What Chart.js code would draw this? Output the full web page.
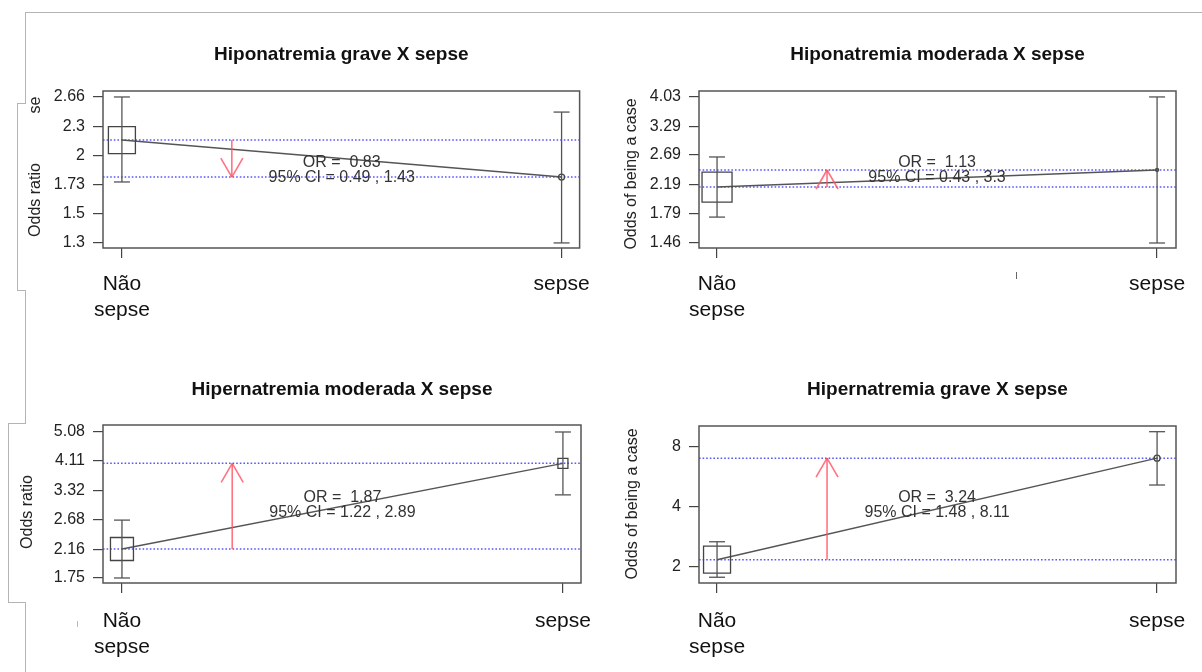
<!DOCTYPE html>
<html>
<head>
<meta charset="utf-8">
<script src="https://cdn.jsdelivr.net/npm/chart.js@4.4.0/dist/chart.umd.min.js"></script>
<style>
  html, body { margin: 0; padding: 0; background: #fff; }
  #page { position: relative; width: 1202px; height: 672px; overflow: hidden; }
  canvas { position: absolute; }
  .edge { position: absolute; background: #b4b4b4; }
</style>
</head>
<body>
<div id="page">
  <canvas id="c0" width="600" height="330" style="left:0;top:0"></canvas>
  <canvas id="c1" width="602" height="330" style="left:600px;top:0"></canvas>
  <canvas id="c2" width="600" height="342" style="left:0;top:330px"></canvas>
  <canvas id="c3" width="602" height="342" style="left:600px;top:330px"></canvas>

  <!-- frame left over from the pasted screenshots -->
  <div class="edge" style="left:25px;top:12px;width:1177px;height:1px"></div>
  <div class="edge" style="left:25px;top:12px;width:1px;height:91px"></div>
  <div class="edge" style="left:17px;top:103px;width:9px;height:1px"></div>
  <div class="edge" style="left:17px;top:103px;width:1px;height:187px"></div>
  <div class="edge" style="left:17px;top:290px;width:9px;height:1px"></div>
  <div class="edge" style="left:25px;top:290px;width:1px;height:133px"></div>
  <div class="edge" style="left:8px;top:423px;width:18px;height:1px"></div>
  <div class="edge" style="left:8px;top:423px;width:1px;height:179px"></div>
  <div class="edge" style="left:8px;top:602px;width:18px;height:1px"></div>
  <div class="edge" style="left:25px;top:602px;width:1px;height:70px"></div>
  <div class="edge" style="left:1016px;top:272px;width:1px;height:7px;background:#666"></div>
  <div class="edge" style="left:77px;top:621px;width:1px;height:6px;background:#bbb"></div>
</div>

<script>
// data
const titles = ['Hiponatremia grave X sepse', 'Hiponatremia moderada X sepse',
                'Hipernatremia moderada X sepse', 'Hipernatremia grave X sepse'];
const categories = [['Não', 'sepse'], 'sepse'];
const yTitles = ['Odds ratio', 'Odds of being a case', 'Odds ratio', 'Odds of being a case'];

const odds  = [[2.153, 1.796], [2.154, 2.425], [2.162, 4.04], [2.17, 7.03]];
const lower = [[1.753, 1.30],  [1.748, 1.46],  [1.75, 3.21],  [1.77, 5.15]];
const upper = [[2.66, 2.47],   [2.655, 4.03],  [2.67, 5.08],  [2.67, 9.55]];

const orValues = ['0.83', '1.13', '1.87', '3.24'];
const ciValues = [['0.49', '1.43'], ['0.43', '3.3'], ['1.22', '2.89'], ['1.48', '8.11']];

const yTicks = [[1.3, 1.5, 1.73, 2, 2.3, 2.66],
                [1.46, 1.79, 2.19, 2.69, 3.29, 4.03],
                [1.75, 2.16, 2.68, 3.32, 4.11, 5.08],
                [2, 4, 8]];
const yRange = [[1.268, 2.739], [1.41, 4.20], [1.687, 5.346], [1.656, 10.2]];

// styles / placement
const markerShape = [['rect', 'circle'], ['rect', 'circle'], ['rect', 'rect'], ['rect', 'circle']];
const markerSide  = [[27, 6], [30, 3], [23, 10], [27, 6]];

const layoutCfg = [
  { yWidth: 103, padRight: 19, titleTop: 43.6, titleBottom: 24.6, xHeight: 82, xPad: 13, xMin: -0.043, xMax: 1.041, yTitle: [36, 200], extra: ['se', 36, 105] },
  { yWidth: 99,  padRight: 26, titleTop: 43.6, titleBottom: 24.6, xHeight: 82, xPad: 13, xMin: -0.041, xMax: 1.043, yTitle: [32, 174] },
  { yWidth: 103, padRight: 19, titleTop: 48.4, titleBottom: 23.8, xHeight: 89, xPad: 15, xMin: -0.043, xMax: 1.041, yTitle: [28, 182] },
  { yWidth: 99,  padRight: 26, titleTop: 48.4, titleBottom: 24.8, xHeight: 89, xPad: 15, xMin: -0.041, xMax: 1.043, yTitle: [33, 174] }
];

const FONT = "'Liberation Sans', Arial, Helvetica, sans-serif";
Chart.defaults.font.family = FONT;

function seg(ctx, x1, y1, x2, y2) {
  ctx.beginPath();
  ctx.moveTo(x1, y1);
  ctx.lineTo(x2, y2);
  ctx.stroke();
}

const decor = {
  id: 'decor',
  beforeDatasetsDraw(chart, args, opts) {
    const { ctx, chartArea: a, scales: { y } } = chart;
    const i = opts.panel;
    ctx.save();
    // dotted reference lines at both odds
    ctx.strokeStyle = 'rgba(70,70,255,0.9)';
    ctx.lineWidth = 1.5;
    ctx.setLineDash([1.6, 2]);
    odds[i].forEach(v => {
      const py = y.getPixelForValue(v);
      seg(ctx, a.left, py, a.right, py);
    });
    ctx.setLineDash([]);
    // plot box
    ctx.strokeStyle = '#555';
    ctx.lineWidth = 1.5;
    ctx.strokeRect(a.left, a.top, a.right - a.left, a.bottom - a.top);
    ctx.restore();
  },
  afterDatasetsDraw(chart, args, opts) {
    const { ctx, chartArea: a, scales: { x, y } } = chart;
    const i = opts.panel;
    const L = layoutCfg[i];
    ctx.save();

    // confidence intervals
    ctx.strokeStyle = '#555';
    ctx.lineWidth = 1.3;
    odds[i].forEach((v, k) => {
      const px = x.getPixelForValue(k);
      const lo = y.getPixelForValue(lower[i][k]);
      const hi = y.getPixelForValue(upper[i][k]);
      seg(ctx, px, lo, px, hi);
      seg(ctx, px - 8, lo, px + 8, lo);
      seg(ctx, px - 8, hi, px + 8, hi);
    });

    // red arrow from first odds to second
    const ax = x.getPixelForValue(0.25);
    const y0 = y.getPixelForValue(odds[i][0]);
    const y1 = y.getPixelForValue(odds[i][1]);
    const dir = y1 < y0 ? 1 : -1;
    ctx.strokeStyle = 'rgba(255,80,100,0.8)';
    ctx.lineWidth = 1.6;
    seg(ctx, ax, y0, ax, y1);
    seg(ctx, ax - 11, y1 + dir * 19, ax, y1);
    seg(ctx, ax + 11, y1 + dir * 19, ax, y1);

    // OR text
    const cx = x.getPixelForValue(0.5);
    const cy = (a.top + a.bottom) / 2;
    ctx.fillStyle = '#333';
    ctx.font = '16px ' + FONT;
    ctx.textAlign = 'center';
    ctx.textBaseline = 'middle';
    ctx.fillText('OR =  ' + orValues[i], cx, cy - 6.5);
    ctx.fillText('95% CI = ' + ciValues[i][0] + ' , ' + ciValues[i][1], cx, cy + 8.5);

    // y axis title
    const drawRot = (txt, tx, ty) => {
      ctx.save();
      ctx.translate(tx, ty);
      ctx.rotate(-Math.PI / 2);
      ctx.fillText(txt, 0, 0);
      ctx.restore();
    };
    ctx.fillStyle = '#222';
    drawRot(yTitles[i], L.yTitle[0], L.yTitle[1]);
    if (L.extra) drawRot(L.extra[0], L.extra[1], L.extra[2]);
    ctx.restore();
  }
};

function makeChart(i) {
  const L = layoutCfg[i];
  return new Chart(document.getElementById('c' + i), {
    type: 'line',
    data: {
      datasets: [{
        data: odds[i].map((v, k) => ({ x: k, y: v })),
        borderColor: '#555',
        borderWidth: 1.5,
        tension: 0,
        pointStyle: markerShape[i],
        pointRadius: markerSide[i].map((s, k) => markerShape[i][k] === 'rect' ? s / Math.SQRT2 : s / 2),
        pointBackgroundColor: 'rgba(0,0,0,0)',
        pointBorderColor: '#444',
        pointBorderWidth: 1.3,
        clip: false
      }]
    },
    options: {
      responsive: false,
      animation: false,
      devicePixelRatio: 1,
      events: [],
      layout: { padding: { left: 0, right: L.padRight, top: 0, bottom: 0 } },
      plugins: {
        legend: { display: false },
        tooltip: { enabled: false },
        title: {
          display: true,
          text: titles[i],
          fullSize: false,
          color: '#111',
          font: { size: 19, weight: 'bold' },
          padding: { top: L.titleTop, bottom: L.titleBottom }
        },
        decor: { panel: i }
      },
      scales: {
        x: {
          type: 'linear',
          min: L.xMin,
          max: L.xMax,
          bounds: 'data',
          afterBuildTicks: s => { s.ticks = categories.map((c, k) => ({ value: k })); },
          afterFit: s => { s.height = L.xHeight; s.paddingLeft = 0; s.paddingRight = 0; },
          grid: { drawOnChartArea: false, drawTicks: true, tickLength: 10, color: '#444', lineWidth: 1.2 },
          border: { display: false },
          ticks: {
            autoSkip: false,
            maxRotation: 0,
            padding: L.xPad,
            color: '#111',
            font: { size: 21, lineHeight: 1.25 },
            callback: (v, k) => categories[k]
          }
        },
        y: {
          type: 'logarithmic',
          min: yRange[i][0],
          max: yRange[i][1],
          bounds: 'data',
          afterBuildTicks: s => { s.ticks = yTicks[i].map(v => ({ value: v })); },
          afterFit: s => { s.width = L.yWidth; s.paddingTop = 0; s.paddingBottom = 0; },
          grid: { drawOnChartArea: false, drawTicks: true, tickLength: 10, color: '#444', lineWidth: 1.2 },
          border: { display: false },
          ticks: {
            autoSkip: false,
            padding: 8,
            color: '#222',
            font: { size: 16 },
            callback: (v, k) => String(yTicks[i][k])
          }
        }
      }
    },
    plugins: [decor]
  });
}

[0, 1, 2, 3].forEach(makeChart);
</script>
</body>
</html>
